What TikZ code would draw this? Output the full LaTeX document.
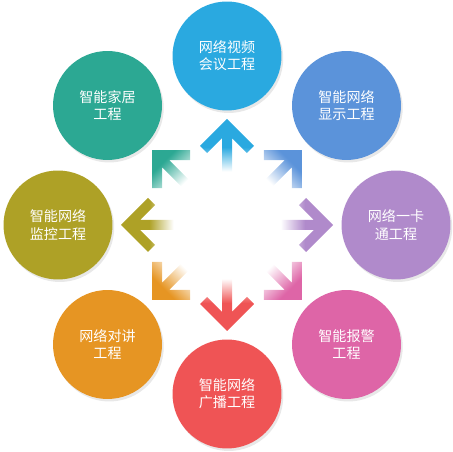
\documentclass[tikz,border=0pt]{standalone}
\usepackage{fontspec}
\newfontfamily\cjk{Noto Sans CJK SC}
\usepackage{tikz}
\usetikzlibrary{shadows}
\definecolor{cTop}{HTML}{2AA9E0}
\definecolor{cTR}{HTML}{5B93DA}
\definecolor{cR}{HTML}{B08ACB}
\definecolor{cBR}{HTML}{DE65A7}
\definecolor{cB}{HTML}{EF5455}
\definecolor{cBL}{HTML}{E69523}
\definecolor{cL}{HTML}{AEA126}
\definecolor{cTL}{HTML}{2CA893}
\colorlet{arrowcol}{white}
\pgfdeclareverticalshading[arrowcol]{fadearrow}{100bp}{color(0bp)=(white); color(32bp)=(white); color(52bp)=(arrowcol); color(100bp)=(arrowcol)}
\pgfdeclareverticalshading[arrowcol]{fadediag}{100bp}{color(0bp)=(white); color(36bp)=(white); color(68bp)=(arrowcol); color(100bp)=(arrowcol)}
\tikzset{
  ringcircle/.style={circle, minimum size=2.18cm, inner sep=0pt, align=center,
    text=white, font=\cjk\fontsize{8}{9.8}\selectfont,
    drop shadow={opacity=0.18, shadow xshift=0.35mm, shadow yshift=-0.5mm}},
  ringarrow/.style={draw=none, shading=#1},
}

\begin{document}
\begin{tikzpicture}[x=0.02cm, y=0.02cm]
  \useasboundingbox (0,0) rectangle (452,452);
  \coordinate (c) at (227,227);
  % 八个工程圆
  \foreach \a/\col/\la/\lb [count=\i] in {90/cTop/网络视频/会议工程, 45/cTR/智能网络/显示工程,
      0/cR/网络一卡/通工程, -45/cBR/智能报警/工程, -90/cB/智能网络/广播工程,
      -135/cBL/网络对讲/工程, 180/cL/智能网络/监控工程, 135/cTL/智能家居/工程}
    \node[ringcircle, fill=\col] (eng\i) at ([shift={(\a:169)}]c) {\la\\\lb};
  % 中心向外的渐变箭头
  \foreach \a/\col/\sh [evaluate=\a as \sa using \a-90] in {90/cTop/fadearrow, 45/cTR/fadediag,
      0/cR/fadearrow, -45/cBR/fadediag, -90/cB/fadearrow, -135/cBL/fadediag,
      180/cL/fadearrow, 135/cTL/fadediag} {
    \colorlet{arrowcol}{\col}
    \begin{scope}[shift={(c)}, rotate=\a]
      \shade[ringarrow=\sh, shading angle=\sa] (106,0) -- (79,27) -- (71.9,19.9) -- (86.9,5)
        -- (45,5) -- (45,-5) -- (86.9,-5) -- (71.9,-19.9) -- (79,-27) -- cycle;
    \end{scope}
  }
\end{tikzpicture}
\end{document}
